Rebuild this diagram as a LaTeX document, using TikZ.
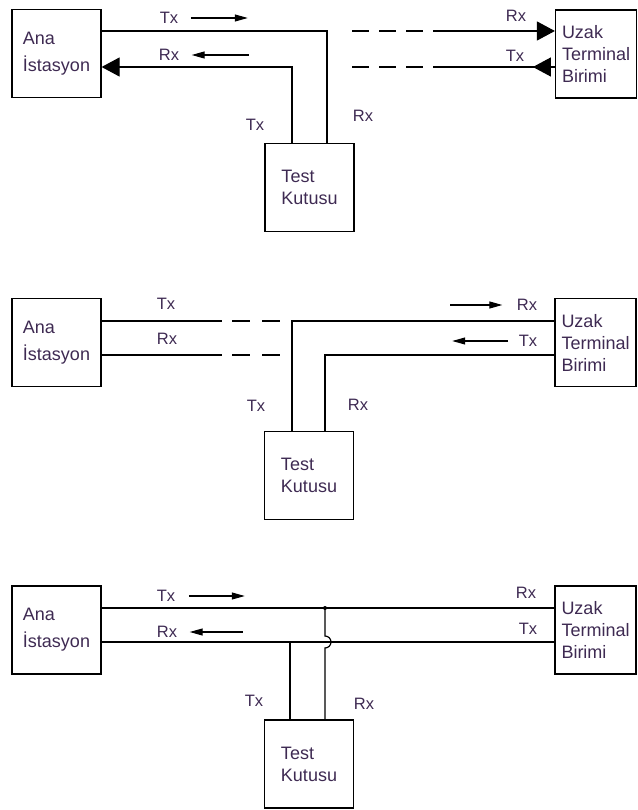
\documentclass[tikz,border=0pt]{standalone}
\usepackage{fontspec}
\setmainfont{Liberation Sans}
\usetikzlibrary{arrows.meta,calc,decorations.markings}
\definecolor{inkpurple}{RGB}{62,42,82}

\begin{document}
\begin{tikzpicture}[x=1pt, y=-1pt, line width=1.2pt,
    unit/.style={rectangle, draw, minimum width=89pt, minimum height=88pt, inner sep=0pt, align=left, text=inkpurple, font=\fontsize{18}{22}\selectfont},
    farunit/.style={unit, minimum width=81pt},
    sig/.style={inner sep=0pt, text=inkpurple, font=\fontsize{16.5}{18}\selectfont},
    flow/.style={line width=1.1pt, -{Triangle[length=13pt,width=7pt]}},
    bigtip/.style={-{Triangle[length=18pt,width=19pt]}},
    dashline/.style={dash pattern=on 17pt off 10pt},
    gapline/.style={dash pattern=on 18pt off 12pt},
    backtip/.style={postaction={decorate}, decoration={markings, mark=at position 22pt with {\arrow{Triangle[length=18pt,width=19pt]}}}},
]
\useasboundingbox (0,0) rectangle (637,810);

% --- 1: test box looped into the station side, far end open
\node[unit] (ana1) at (56.5,53.5) {Ana\\[5pt]İstasyon};
\node[unit] (test1) at (309.5,187.5) {Test\\Kutusu};
\node[farunit] (uzak1) at (596,54) {Uzak\\Terminal\\Birimi};
\coordinate (tx1) at (0,31);
\coordinate (rx1) at (0,67);
\coordinate (t1l) at ([xshift=-17.5pt]test1.north);
\coordinate (t1r) at ([xshift=17.5pt]test1.north);
\coordinate (d1t) at (352,31);
\coordinate (s1t) at (433,31);
\coordinate (d1r) at (352,67);
\coordinate (s1r) at (433,67);
\draw (ana1.east |- tx1) -| (t1r);
\draw[bigtip] (t1l) |- (ana1.east |- rx1);
\draw[dashline] (d1t) -- (s1t);
\draw[bigtip] (s1t) -- (uzak1.west |- tx1);
\draw[dashline] (d1r) -- (s1r);
\draw[backtip] (uzak1.west |- rx1) -- (s1r);
\node[sig] (lt1) at (169,18) {Tx};
\node[sig] (lr1) at (169,55) {Rx};
\node[sig] (vt1) at (255,125) {Tx};
\node[sig] (vr1) at (363,116) {Rx};
\node[sig] (ur1) at (516,16) {Rx};
\node[sig] (ut1) at (515,56) {Tx};
\draw[flow] ([xshift=12pt]lt1.east) -- ++(57,0);
\draw[flow] ([xshift=69pt]lr1.east) -- ([xshift=12pt]lr1.east);

% --- 2: test box looped into the remote side, station end open
\node[unit] (ana2) at (56.5,342.5) {Ana\\[5pt]İstasyon};
\node[unit] (test2) at (309,475.5) {Test\\Kutusu};
\node[farunit] (uzak2) at (595.5,342.5) {Uzak\\Terminal\\Birimi};
\coordinate (tx2) at (0,321);
\coordinate (rx2) at (0,355);
\coordinate (e2t) at (222,321);
\coordinate (f2t) at (232,321);
\coordinate (g2t) at (280,321);
\coordinate (e2r) at (222,355);
\coordinate (f2r) at (232,355);
\coordinate (g2r) at (280,355);
\coordinate (t2l) at ([xshift=-17pt]test2.north);
\coordinate (t2r) at ([xshift=16pt]test2.north);
\draw (ana2.east |- tx2) -- (e2t);
\draw[gapline] (f2t) -- (g2t);
\draw (ana2.east |- rx2) -- (e2r);
\draw[gapline] (f2r) -- (g2r);
\draw (t2l) |- (uzak2.west |- tx2);
\draw (t2r) |- (uzak2.west |- rx2);
\node[sig] (lt2) at (166,304) {Tx};
\node[sig] (lr2) at (167,339) {Rx};
\node[sig] (vt2) at (256,406) {Tx};
\node[sig] (vr2) at (358,405) {Rx};
\node[sig] (ur2) at (527,305) {Rx};
\node[sig] (ut2) at (528,341) {Tx};
\draw[flow] ([xshift=-66pt]ur2.west) -- ([xshift=-14pt]ur2.west);
\draw[flow] ([xshift=-10pt]ut2.west) -- ([xshift=-66pt]ut2.west);

% --- 3: test box bridged across the live pair
\node[unit] (ana3) at (56.5,630) {Ana\\[5pt]İstasyon};
\node[unit] (test3) at (309,764) {Test\\Kutusu};
\node[farunit] (uzak3) at (595.5,630) {Uzak\\Terminal\\Birimi};
\coordinate (tx3) at (0,608);
\coordinate (rx3) at (0,642);
\coordinate (t3l) at ([xshift=-19pt]test3.north);
\coordinate (t3r) at ([xshift=16pt]test3.north);
\coordinate (j3) at (t3r |- tx3);
\draw (ana3.east |- tx3) -- (uzak3.west |- tx3);
\draw (ana3.east |- rx3) -- (uzak3.west |- rx3);
\draw (t3l |- rx3) -- (t3l);
\fill (j3) circle[radius=2pt];
\draw (j3) -- ($(t3r |- rx3)+(0,-6)$) arc[start angle=90, end angle=-90, radius=6pt] -- (t3r);
\node[sig] (lt3) at (166,596) {Tx};
\node[sig] (lr3) at (167,632) {Rx};
\node[sig] (vt3) at (254,701) {Tx};
\node[sig] (vr3) at (364,704) {Rx};
\node[sig] (ur3) at (526,593) {Rx};
\node[sig] (ut3) at (528,629) {Tx};
\draw[flow] ([xshift=13pt]lt3.east) -- ++(56,0);
\draw[flow] ([xshift=65pt]lr3.east) -- ([xshift=12pt]lr3.east);
\end{tikzpicture}
\end{document}
